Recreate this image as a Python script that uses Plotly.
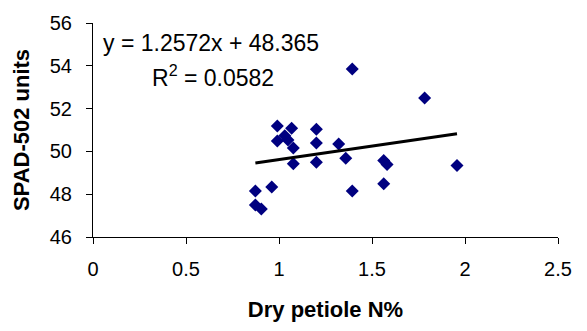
import plotly.graph_objects as go

x_vals = [0.991, 1.068, 1.201, 1.201, 0.991, 1.031, 1.048, 1.077, 1.077, 1.201,
          0.961, 0.873, 0.873, 0.905,
          1.394, 1.783, 1.321, 1.359, 1.563, 1.581, 1.957, 1.563, 1.394]
y_vals = [51.19, 51.08, 51.03, 50.39, 50.49, 50.73, 50.53, 50.16, 49.42, 49.49,
          48.34, 48.15, 47.50, 47.31,
          53.85, 52.49, 50.34, 49.68, 49.57, 49.39, 49.34, 48.49, 48.15]
slope = 1.2572
intercept = 48.365
x_ticks = [0, 0.5, 1, 1.5, 2, 2.5]
y_ticks = [46, 48, 50, 52, 54, 56]

trend_x = [min(x_vals), max(x_vals)]
trend_y = [slope * v + intercept for v in trend_x]

fig = go.Figure()
fig.add_trace(go.Scatter(x=x_vals, y=y_vals, mode="markers",
                         marker=dict(symbol="diamond", size=10, color="#000080"),
                         showlegend=False))
fig.add_trace(go.Scatter(x=trend_x, y=trend_y, mode="lines",
                         line=dict(color="black", width=3), showlegend=False))

font = "Arial, Liberation Sans, sans-serif"
L, R, T, B = 93, 29, 21, 94
fig.update_layout(
    width=587, height=331,
    margin=dict(l=L, r=R, t=T, b=B),
    paper_bgcolor="white", plot_bgcolor="white",
    font=dict(family=font, color="black", size=20),
    xaxis=dict(range=[0, 2.5], tickvals=x_ticks, ticktext=[str(v) for v in x_ticks],
               showgrid=False, zeroline=False, showline=True, linecolor="black",
               linewidth=1, ticks="outside", ticklen=6, tickcolor="black",
               tickfont=dict(size=20), ticklabelstandoff=8,
               title=dict(text="<b>Dry petiole N%</b>", font=dict(size=22), standoff=22)),
    yaxis=dict(range=[46, 56], tickvals=y_ticks, showgrid=False, zeroline=False,
               showline=True, linecolor="black", linewidth=1, ticks="outside",
               ticklen=6, tickcolor="black", tickfont=dict(size=20), ticklabelstandoff=10,
               title=dict(text="<b>SPAD-502 units</b>", font=dict(size=22), standoff=14)),
)
pw = 587 - L - R
ph = 331 - T - B
def px(xp):
    return (xp - L) / pw
def py(yp):
    return 1 - (yp - T) / ph
fig.add_annotation(x=px(211), y=py(41), xref="paper", yref="paper",
                   text="y = 1.2572x + 48.365", showarrow=False,
                   font=dict(size=23), xanchor="center", yanchor="middle")
fig.add_annotation(x=px(213), y=py(74), xref="paper", yref="paper",
                   text="R<sup>2</sup> = 0.0582", showarrow=False,
                   font=dict(size=23), xanchor="center", yanchor="middle")

fig.write_html("out.html")
